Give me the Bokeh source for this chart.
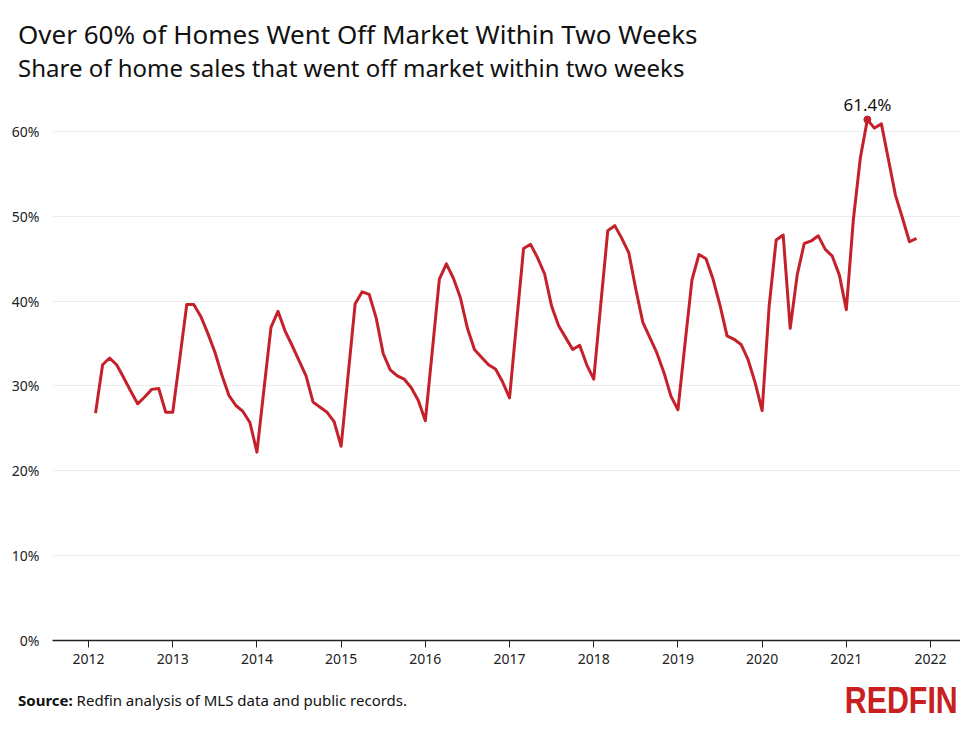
from bokeh.plotting import figure
from bokeh.layouts import column
from bokeh.models import Range1d, FixedTicker, PrintfTickFormatter, Label, ColumnDataSource, Div
from bokeh.embed import file_html
from bokeh.resources import INLINE

title_text = "Over 60% of Homes Went Off Market Within Two Weeks"
subtitle_text = "Share of home sales that went off market within two weeks"
source_bold = "Source:"
source_text = "Redfin analysis of MLS data and public records."
brand = "REDFIN"

# monthly share (%) of home sales that went off market within two weeks
start_month_2012 = 2  # series starts February 2012
share_2012 = [26.8, 32.5, 33.3, 32.5, 31.0, 29.4, 27.9, 28.7, 29.6, 29.7, 26.9]
share_2013 = [26.9, 33.2, 39.6, 39.6, 38.2, 36.2, 34.0, 31.3, 28.9, 27.7, 27.0, 25.7]
share_2014 = [22.2, 29.6, 36.9, 38.8, 36.5, 34.8, 33.0, 31.2, 28.1, 27.5, 26.9, 25.8]
share_2015 = [22.9, 31.3, 39.7, 41.1, 40.8, 38.0, 33.8, 31.9, 31.2, 30.8, 29.8, 28.3]
share_2016 = [25.9, 34.2, 42.6, 44.4, 42.7, 40.4, 36.8, 34.3, 33.4, 32.5, 32.0, 30.5]
share_2017 = [28.6, 37.4, 46.2, 46.7, 45.1, 43.2, 39.4, 37.1, 35.7, 34.3, 34.8, 32.5]
share_2018 = [30.8, 39.6, 48.3, 48.9, 47.4, 45.7, 41.4, 37.5, 35.7, 33.9, 31.6, 28.8]
share_2019 = [27.2, 34.9, 42.5, 45.5, 45.0, 42.6, 39.5, 35.9, 35.5, 34.9, 33.1, 30.4]
share_2020 = [27.1, 39.4, 47.2, 47.8, 36.8, 43.1, 46.8, 47.1, 47.7, 46.1, 45.3, 43.1]
share_2021 = [39.0, 49.6, 56.9, 61.4, 60.4, 60.9, 56.7, 52.5, 49.8, 47.0, 47.4]

year_ticks = [2012, 2013, 2014, 2015, 2016, 2017, 2018, 2019, 2020, 2021, 2022]
pct_ticks = [0, 10, 20, 30, 40, 50, 60]

by_year = {
    2012: share_2012, 2013: share_2013, 2014: share_2014, 2015: share_2015,
    2016: share_2016, 2017: share_2017, 2018: share_2018, 2019: share_2019,
    2020: share_2020, 2021: share_2021,
}
xs, ys = [], []
for yr, vals in by_year.items():
    first = start_month_2012 if yr == 2012 else 1
    for i, v in enumerate(vals):
        xs.append(yr + (first - 1 + i) / 12.0)
        ys.append(v)

peak_i = max(range(len(ys)), key=lambda i: ys[i])
peak_x, peak_y = xs[peak_i], ys[peak_i]

RED = "#c4212a"
FONT = "Noto Sans"
W = 960
TOP_H, MAIN_H, FOOT_H = 80, 600, 33

# ---- title block ----
top_html = (
    f'<div style="position:relative;width:{W}px;height:{TOP_H}px;font-family:\'Noto Sans\';color:#111111;">'
    f'<div style="position:absolute;left:18px;top:20px;font-size:26px;line-height:28px;white-space:nowrap;">{title_text}</div>'
    f'<div style="position:absolute;left:18px;top:55px;font-size:24px;line-height:25px;white-space:nowrap;">{subtitle_text}</div>'
    '</div>'
)
top = Div(text=top_html, width=W, height=TOP_H, margin=0)

# ---- main chart ----
p = figure(width=W, height=MAIN_H, output_backend="svg", toolbar_location=None,
           title=None,
           x_range=Range1d(2011.572, 2022.356), y_range=Range1d(0, 65.42),
           min_border_left=52, min_border_right=0, min_border_top=5, min_border_bottom=40)
p.outline_line_color = None
p.background_fill_color = "white"
p.border_fill_color = "white"

src = ColumnDataSource(dict(x=xs, y=ys))
p.line("x", "y", source=src, line_color=RED, line_width=3, line_join="round")
p.scatter([peak_x], [peak_y], size=7, color=RED)

p.xaxis.ticker = FixedTicker(ticks=year_ticks)
p.xaxis.axis_line_color = "#222222"
p.xaxis.axis_line_width = 1.5
p.xaxis.major_tick_line_color = "#222222"
p.xaxis.major_tick_out = 7
p.xaxis.major_tick_in = 0
p.xaxis.minor_tick_line_color = None
p.xaxis.major_label_text_font = FONT
p.xaxis.major_label_text_font_size = "14px"
p.xaxis.major_label_text_color = "#222222"
p.xaxis.major_label_standoff = 6

p.yaxis.ticker = FixedTicker(ticks=pct_ticks)
p.yaxis.formatter = PrintfTickFormatter(format="%d%%")
p.yaxis.axis_line_color = None
p.yaxis.major_tick_line_color = None
p.yaxis.minor_tick_line_color = None
p.yaxis.major_label_text_font = FONT
p.yaxis.major_label_text_font_size = "14px"
p.yaxis.major_label_text_color = "#222222"
p.yaxis.major_label_standoff = 7

p.xgrid.grid_line_color = None
p.ygrid.grid_line_color = "#ececec"
p.ygrid.grid_line_width = 1

p.add_layout(Label(x=peak_x, y=peak_y, text=f"{peak_y:.1f}%", text_align="center",
                   text_baseline="middle", y_offset=15, text_font=FONT,
                   text_font_size="17px", text_color="#111111"))

# ---- footer block ----
foot_html = (
    f'<div style="position:relative;width:{W}px;height:{FOOT_H}px;font-family:\'Noto Sans\';color:#111111;">'
    f'<div style="position:absolute;left:18px;top:12px;font-size:15px;line-height:17px;white-space:nowrap;">'
    f'<b>{source_bold}</b> {source_text}</div>'
    f'<div style="position:absolute;right:2px;top:2px;font-family:\'Liberation Sans\';font-weight:bold;'
    f'font-size:37px;line-height:37px;color:#c82021;white-space:nowrap;transform:scaleX(0.82);'
    f'transform-origin:right center;">{brand}</div>'
    '</div>'
)
foot = Div(text=foot_html, width=W, height=FOOT_H, margin=0)

layout = column(top, p, foot, spacing=0)
open("out.html", "w").write(file_html(layout, INLINE))
